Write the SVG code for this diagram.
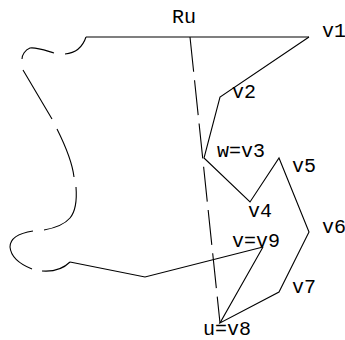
<svg xmlns="http://www.w3.org/2000/svg" width="345" height="340" viewBox="0 0 345 340">
  <style>
    .ln { fill: none; stroke: #000; stroke-width: 1.1; stroke-linejoin: miter; stroke-linecap: butt; }
    .dash { stroke-dasharray: 35 8.5; }
    .lbl { font-family: "Courier New", Courier, "Nimbus Mono PS", "FreeMono", "Liberation Mono", monospace; font-size: 20px; fill: #000; }
  </style>
  <rect width="345" height="340" fill="#fff"/>

  <!-- region boundary and edges -->
  <g id="connectors">
    <!-- top boundary of the region Ru -->
    <path class="ln" d="M86,37 L309,37"/>
    <!-- curved left boundary, drawn as separate dash strokes -->
    <path class="ln" d="M86,37 C83,46 76,53 65,54
                        M54,53 C44,50 36,47 30,48 C25,50 22,55 22,59
                        M23,70 L52,119
                        M57,129 C64,143 72,160 74,177
                        M76,187 C77,200 75,212 70,218 C64,225 55,228 44,230
                        M33,231 C20,233 10,238 10,247 C11,258 22,265 32,269
                        M42,271 C55,272 64,268 70,262"/>
    <!-- bottom boundary into v9 -->
    <path class="ln" d="M70,262 L145,277 L263,247"/>
    <!-- dashed chord from the top boundary down to u -->
    <path class="ln dash" d="M190,37 L220,323"/>
    <!-- path v1 .. v9 -->
    <path class="ln" d="M309,37 L220,97 L204,158 L250,202 L279,158 L309,232 L279,292 L220,323 L263,247"/>
  </g>

  <g id="Ru"><text class="lbl" x="172" y="23">Ru</text></g>
  <g id="v1"><text class="lbl" x="322" y="37">v1</text></g>
  <g id="v2"><text class="lbl" x="232" y="98">v2</text></g>
  <g id="v3"><text class="lbl" x="217" y="157">w=v3</text></g>
  <g id="v4"><text class="lbl" x="248" y="217">v4</text></g>
  <g id="v5"><text class="lbl" x="292" y="172">v5</text></g>
  <g id="v6"><text class="lbl" x="322" y="233">v6</text></g>
  <g id="v7"><text class="lbl" x="292" y="293">v7</text></g>
  <g id="v8"><text class="lbl" x="203" y="335">u=v8</text></g>
  <g id="v9"><text class="lbl" x="232" y="247">v=v9</text></g>
</svg>
